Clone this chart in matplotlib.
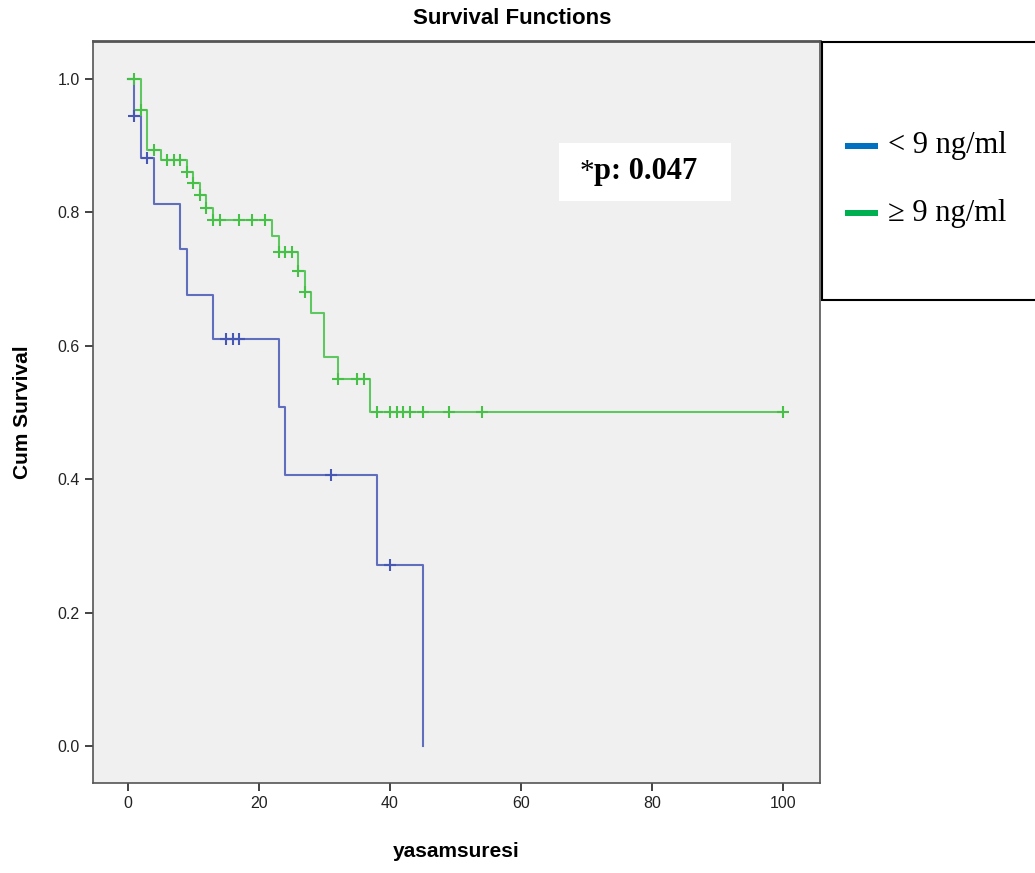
import numpy as np
import matplotlib
matplotlib.use('Agg')
import matplotlib.pyplot as plt
from matplotlib.patches import Rectangle

plt.rcParams['font.family'] = ['Liberation Sans', 'DejaVu Sans']

# kaplan-meier curves
low_times = [0, 1, 2, 4, 8, 9, 13, 23, 24, 38, 45]
low_surv = [1.0, 0.944, 0.882, 0.813, 0.745, 0.677, 0.610, 0.509, 0.407, 0.271, 0.0]
low_censor = [1, 3, 15, 16, 17, 31, 40]

high_times = [0, 2, 3, 5, 9, 10, 11, 12, 13, 22, 23, 26, 27, 28, 30, 32, 37, 100]
high_surv = [1.0, 0.954, 0.894, 0.879, 0.861, 0.844, 0.826, 0.807, 0.789,
             0.765, 0.741, 0.712, 0.681, 0.650, 0.584, 0.551, 0.501, 0.501]
high_censor = [1, 2, 4, 6, 7, 8, 9, 10, 11, 12, 13, 14, 17, 19, 21, 23, 24, 25,
               26, 27, 32, 35, 36, 38, 40, 41, 42, 43, 45, 49, 54, 100]

labels = ["< 9 ng/ml", "\u2265 9 ng/ml"]
line_colors = ["#4658b4", "#46c046"]
legend_colors = ["#0070c0", "#00b050"]
p_text = "0.047"
x_ticks = [0, 20, 40, 60, 80, 100]
y_ticks = [0.0, 0.2, 0.4, 0.6, 0.8, 1.0]


def level_at(times, surv, t):
    i = np.searchsorted(times, t, side='right') - 1
    return np.asarray(surv)[i]


fig = plt.figure(figsize=(10.35, 8.73), dpi=100)
ax = fig.add_axes([0.0899, 0.1031, 0.7024, 0.850])
ax.set_facecolor('#f0f0f0')

for times, surv, cens, col in [(low_times, low_surv, low_censor, line_colors[0]),
                               (high_times, high_surv, high_censor, line_colors[1])]:
    ax.step(times, surv, where='post', color=col, lw=1.5, alpha=0.85)
    ax.plot(cens, level_at(times, surv, cens), ls='none', marker='+',
            ms=9, mew=1.5, color=col)

ax.set_xlim(-5.3, 105.6)
ax.set_ylim(-0.055, 1.057)
ax.set_xticks(x_ticks)
ax.set_yticks(y_ticks)
ax.set_yticklabels([f"{v:.1f}" for v in y_ticks])
ax.tick_params(direction='out', length=6, width=1.2, labelsize=11.5, colors='#222222')
for s in ax.spines.values():
    s.set_color('#555555')
    s.set_linewidth(1.2)
ax.spines['top'].set_linewidth(2)

ax.set_xlabel("yasamsuresi", fontsize=15, fontweight='bold', labelpad=22)
ax.set_ylabel("Cum Survival", fontsize=15, fontweight='bold', labelpad=18)
fig.text(0.495, 0.979, "Survival Functions", ha='center', va='center',
         fontsize=16, fontweight='bold')

# p value box
fig.patches.append(Rectangle((0.540, 0.770), 0.166, 0.066, transform=fig.transFigure,
                             facecolor='white', edgecolor='none', zorder=5))
fig.text(594 / 1035, 0.803, "*", ha='right', va='center', fontsize=21,
         family='Liberation Serif', zorder=6)
fig.text(594 / 1035, 0.803, "p: " + p_text, ha='left', va='center', fontsize=22,
         family='Liberation Serif', fontweight='bold', zorder=6)

# legend box outside the axes
fig.patches.append(Rectangle((0.7945, 0.656), 0.25, 0.296, transform=fig.transFigure,
                             facecolor='white', edgecolor='black', lw=1.5))
for k, (lab, col) in enumerate(zip(labels, legend_colors)):
    yc = 1 - (146 + 67 * k) / 873
    fig.patches.append(Rectangle((845 / 1035, yc - 3 / 873), 33 / 1035, 6 / 873,
                                 transform=fig.transFigure, facecolor=col,
                                 edgecolor='none'))
    fig.text(888 / 1035, yc, lab, ha='left', va='center', fontsize=22,
             family=['Liberation Serif', 'DejaVu Serif'])

fig.savefig("out.png", dpi=100)
